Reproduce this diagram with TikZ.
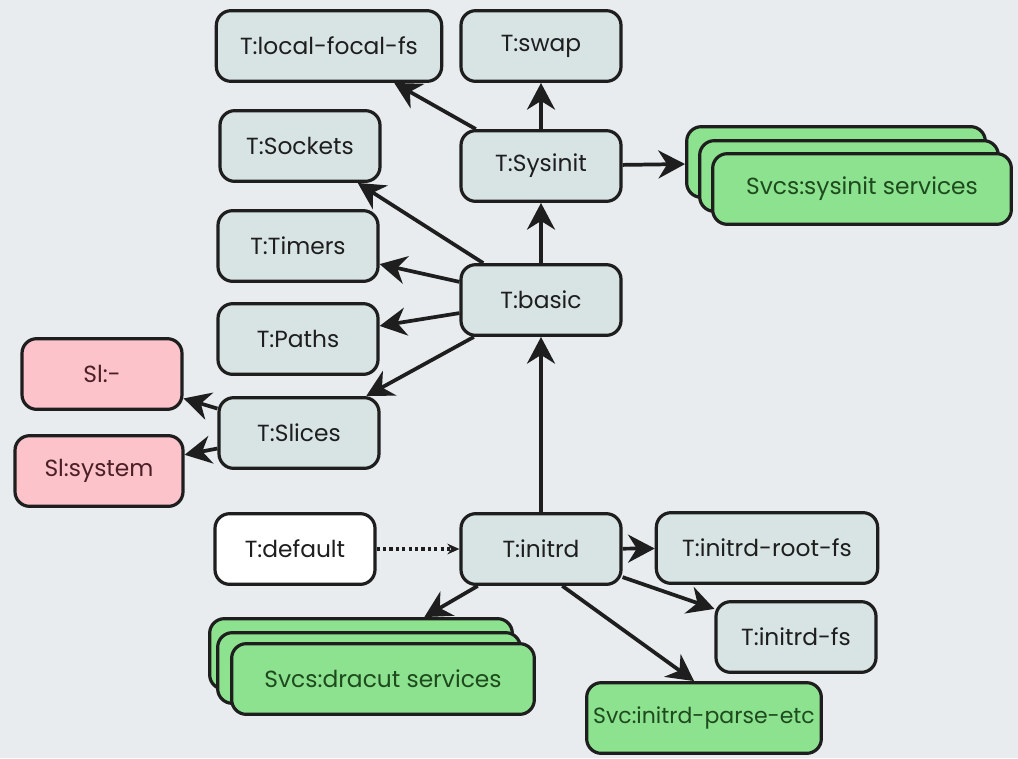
\documentclass[tikz,border=0pt]{standalone}
\usepackage{fontspec}
\setsansfont{Poppins}
\usetikzlibrary{arrows.meta,positioning}
\definecolor{bgray}{HTML}{E8ECEE}
\definecolor{tfill}{HTML}{D8E3E3}
\definecolor{svcfill}{HTML}{8CE28E}
\definecolor{slfill}{HTML}{FDC3CA}
\definecolor{edgedark}{HTML}{1E1E1E}
\definecolor{svctext}{HTML}{1E4A1E}
\definecolor{sltext}{HTML}{4A1F26}

\begin{document}
\begin{tikzpicture}[
  x=0.75pt,y=-0.75pt,
  font=\sffamily\fontsize{17.5}{20}\selectfont,
  box/.style={rectangle, rounded corners=11pt, draw=edgedark, line width=2.4pt, minimum height=53pt, minimum width=120pt, inner sep=2pt},
  tbox/.style={box, fill=tfill, text=edgedark},
  svcbox/.style={box, fill=svcfill, text=svctext},
  slbox/.style={box, fill=slfill, text=sltext},
  dfbox/.style={box, fill=white, text=edgedark},
  dep/.style={-{Stealth[length=20pt,width=21pt]}, line width=2.8pt, color=edgedark},
  weak/.style={-{Stealth[length=9pt,width=8pt]}, line width=2.6pt, dash pattern=on 2.4pt off 2.4pt, color=edgedark},
]
\fill[bgray] (0,0) rectangle (1018,758);
\useasboundingbox (0,0) rectangle (1018,758);
% targets
\node[tbox, minimum width=169pt] (localfs) at (329,46) {T:local-focal-fs};
\node[tbox] (swap) at (541,46) {T:swap};
\node[tbox] (sysinit) at (541,166) {T:Sysinit};
\node[tbox] (sockets) at (300,146) {T:Sockets};
\node[tbox] (timers) at (298,246) {T:Timers};
\node[tbox] (basic) at (541,300) {T:basic};
\node[tbox] (paths) at (298,339) {T:Paths};
\node[tbox] (slices) at (299,433) {T:Slices};
\node[dfbox] (default) at (295,549) {T:default};
\node[tbox] (initrd) at (541,549) {T:initrd};
\node[tbox, minimum width=166pt] (rootfs) at (767,548) {T:initrd-root-fs};
\node[tbox] (initrdfs) at (796,637) {T:initrd-fs};
% slices
\node[slbox] (slroot) at (102,374) {Sl:-};
\node[slbox, minimum width=126pt] (slsystem) at (99,471) {Sl:system};
% services
\node[svcbox, minimum width=224pt] (sysinitsvc3) at (836,162) {};
\node[svcbox, minimum width=224pt] (sysinitsvc2) at (849,176) {};
\node[svcbox, minimum width=224pt] (sysinitsvc) at (862,189) {Svcs:sysinit services};
\node[svcbox, minimum width=227pt] (dracutsvc3) at (361,654) {};
\node[svcbox, minimum width=227pt] (dracutsvc2) at (369,668) {};
\node[svcbox, minimum width=227pt] (dracutsvc) at (383,679) {Svcs:dracut services};
\node[svcbox, minimum width=176pt, inner xsep=0pt, font=\sffamily\fontsize{16.5}{19}\selectfont] (parse) at (704,718) {Svc:initrd-parse-etc};
% dependencies
\draw[dep] (sysinit) -- (localfs);
\draw[dep] (sysinit) -- (swap);
\draw[dep] (sysinit) -- (sysinitsvc3);
\draw[dep] (basic) -- (sysinit);
\draw[dep] (basic) -- (sockets);
\draw[dep] (basic) -- (timers);
\draw[dep] (basic) -- (paths);
\draw[dep] (basic) -- (slices);
\draw[dep] (slices) -- (slroot);
\draw[dep] (slices) -- (slsystem);
\draw[dep] (initrd) -- (basic);
\draw[weak] (default) -- (initrd);
\draw[dep] (initrd) -- (rootfs);
\draw[dep] (initrd) -- (initrdfs);
\draw[dep] (initrd) -- (dracutsvc3);
\draw[dep] (initrd.-60) -- (parse.105);
\end{tikzpicture}
\end{document}
